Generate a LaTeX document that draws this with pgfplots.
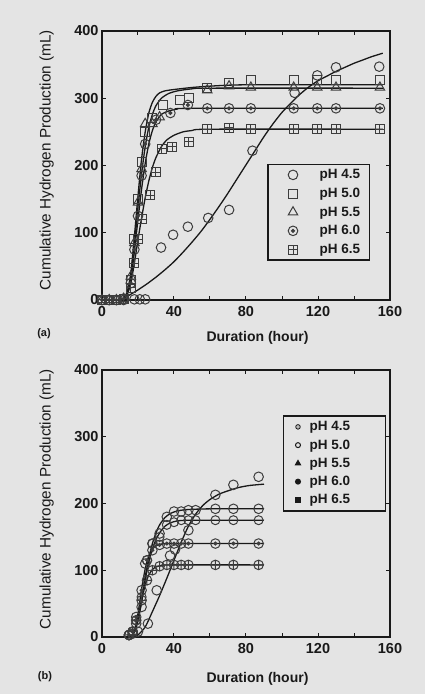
\documentclass[border=0pt]{standalone}
\usepackage{fontspec}
\setmainfont{Liberation Sans}
\usepackage{pgfplots}
\pgfplotsset{compat=1.18}
\definecolor{bg}{gray}{0.895}
\definecolor{ink}{gray}{0.10}
\definecolor{mk}{gray}{0.24}

\pgfdeclareplotmark{odot}{%
  \pgfpathcircle{\pgfpointorigin}{\pgfplotmarksize}\pgfusepathqstroke
  \pgfpathcircle{\pgfpointorigin}{0.32\pgfplotmarksize}\pgfusepathqfillstroke}
\pgfdeclareplotmark{boxplus}{%
  \pgfpathrectangle{\pgfpoint{-\pgfplotmarksize}{-\pgfplotmarksize}}{\pgfpoint{2\pgfplotmarksize}{2\pgfplotmarksize}}%
  \pgfpathmoveto{\pgfpoint{-\pgfplotmarksize}{0pt}}\pgfpathlineto{\pgfpoint{\pgfplotmarksize}{0pt}}%
  \pgfpathmoveto{\pgfpoint{0pt}{-\pgfplotmarksize}}\pgfpathlineto{\pgfpoint{0pt}{\pgfplotmarksize}}%
  \pgfusepathqstroke}

\pgfplotsset{
  panel/.style={
    scale only axis, width=288pt,
    xmin=0, xmax=160, ymin=0, ymax=400,
    xtick={0,40,80,120,160}, minor xtick={20,60,100,140},
    ytick={0,100,200,300,400},
    tick align=inside, major tick length=4pt, minor tick length=4pt,
    axis line style={line width=1.4pt, draw=ink},
    every tick/.append style={line width=1pt, draw=ink},
    tick label style={font=\fontsize{14.5}{14.5}\selectfont\bfseries, text=ink},
    xticklabel style={yshift=-3pt},
    /pgf/number format/assume math mode=true,
    clip=false,
    ylabel={Cumulative Hydrogen Production (mL)},
    xlabel={Duration (hour)},
    ylabel style={font=\fontsize{15.3}{15.3}\selectfont, text=ink, anchor=center},
    xlabel style={font=\fontsize{14}{14}\selectfont\bfseries, text=ink, anchor=center},
    legend cell align=left,
  },
  fitline/.style={smooth, tension=0.4, line width=1.3pt, draw=ink, no marks, forget plot},
  pts/.style={only marks, mark options={draw=mk, fill=mk, line width=1pt}},
}

\begin{document}
\begin{tikzpicture}[x=1pt,y=1pt]
\fill[bg] (0,0) rectangle (425,694);

% ---------------- Panel (a) ----------------
\begin{axis}[panel, at={(102pt,394pt)}, anchor=south west, height=269pt,
  ylabel style={at={(axis description cs:-0.192,0.52)}},
  xlabel style={at={(axis description cs:0.54,-0.140)}},
  legend image code/.code={\path (0pt,-4pt) (46pt,4pt); \draw[#1] plot coordinates {(21.5pt,0pt)};},
  legend style={at={(axis description cs:0.574,0.506)}, anchor=north west,
    draw=ink, line width=1.2pt, fill=none, text=ink,
    font=\fontsize{13.5}{13.5}\selectfont\bfseries,
    inner xsep=3pt, inner ysep=3.5pt, row sep=4.8pt, column sep=0pt,
    nodes={inner sep=1.5pt}},
]
\addplot[pts, mark=o, mark size=4.8pt] coordinates {
(0,0) (4,0) (8,0) (12,0) (18,1) (21,1) (24,1) (32.8,78) (39.5,97) (47.7,109) (59,122) (70.6,134) (83.6,222) (107,308) (119.6,334) (130,346) (154,347)};
\addlegendentry{pH 4.5\kern5pt}
\addplot[pts, mark=square, mark size=4.5pt] coordinates {
(0,0) (4,0) (8,0) (12,2) (16,30) (18,90) (20,150) (22,205) (24,250) (28,270) (34,290) (43.6,297) (48.2,300) (58.5,315) (70.6,322) (82.7,327) (106.5,327) (119.6,327) (130,327) (154.4,327)};
\addlegendentry{pH 5.0\kern5pt}
\addplot[pts, mark=triangle, mark size=5.5pt] coordinates {
(0,0) (4,0) (8,0) (12,2) (16,35) (18,85) (20,145) (22,195) (24,262) (28,262) (32,272) (58.5,312) (70.6,318) (82.7,316) (106.5,316) (119.6,316) (130,316) (154.4,316)};
\addlegendentry{pH 5.5\kern5pt}
\addplot[pts, mark=odot, mark size=4.8pt] coordinates {
(0,0) (4,0) (8,0) (12,2) (16,25) (18,75) (20,125) (22,185) (24,232) (30,268) (38,278) (47.7,290) (58.5,285) (70.6,285) (82.7,285) (106.5,285) (119.6,285) (130,285) (154.4,285)};
\addlegendentry{pH 6.0\kern5pt}
\addplot[pts, mark=boxplus, mark size=4.5pt] coordinates {
(0,0) (4,0) (8,0) (12,2) (16,18) (18,55) (20,90) (22,120) (26.8,156) (30,190) (33.3,225) (38.9,228) (48.2,235) (58.5,254) (70.6,256) (82.7,254) (106.5,254) (119.6,254) (130,254) (154.4,254)};
\addlegendentry{pH 6.5\kern5pt}
% fitted curves
\addplot[fitline] coordinates {
(10,0) (15,7) (20,15) (25,24) (30,34) (35,45) (40,57) (45,71) (50,86) (55,102) (60,120) (65,139) (70,159) (75,180) (80,201) (85,222) (90,243) (95,262) (100,279) (105,293) (110,306) (115,317) (120,326) (125,333) (130,340) (135,346) (140,352) (145,357) (150,362) (156,367)};
\addplot[fitline] coordinates {
(10,0) (12,2) (14,12) (16,40) (18,95) (20,155) (22,210) (24,250) (26,278) (28,294) (30,303) (32,308) (35,311) (40,313) (50,316) (60,318) (80,320) (156,320)};
\addplot[fitline] coordinates {
(10,0) (12,2) (14,10) (16,35) (18,82) (20,138) (22,188) (24,228) (26,257) (28,276) (30,289) (33,300) (37,307) (42,311) (50,314) (60,315) (156,315)};
\addplot[fitline] coordinates {
(10,0) (12,2) (14,9) (16,30) (18,72) (20,120) (22,165) (24,203) (26,232) (28,252) (30,265) (33,276) (37,281) (42,284) (50,285) (156,285)};
\addplot[fitline] coordinates {
(10,0) (12,2) (14,8) (16,25) (18,55) (20,90) (22,122) (24,152) (26,177) (28,197) (30,212) (33,228) (36,238) (40,245) (45,250) (50,252) (60,254) (156,254)};
\end{axis}

% ---------------- Panel (b) ----------------
\begin{axis}[panel, at={(102pt,57pt)}, anchor=south west, height=267pt,
  ylabel style={at={(axis description cs:-0.192,0.517)}},
  xlabel style={at={(axis description cs:0.54,-0.156)}},
  legend image code/.code={\path (0pt,-4pt) (20pt,4pt); \draw[#1] plot coordinates {(10.5pt,0pt)};},
  legend style={at={(axis description cs:0.6295,0.830)}, anchor=north west,
    draw=ink, line width=1.2pt, fill=none, text=ink,
    font=\fontsize{13.5}{13.5}\selectfont\bfseries,
    inner xsep=3pt, inner ysep=4pt, row sep=4.4pt, column sep=0pt,
    nodes={inner sep=1.5pt}},
]
\addlegendimage{only marks, mark=*, mark size=2.3pt, mark options={draw=ink, fill=gray!55, line width=0.8pt}}
\addlegendentry{pH 4.5\kern31pt}
\addlegendimage{only marks, mark=o, mark size=2.5pt, mark options={draw=ink, line width=1pt}}
\addlegendentry{pH 5.0\kern31pt}
\addlegendimage{only marks, mark=triangle*, mark size=2.8pt, mark options={draw=ink, fill=ink}}
\addlegendentry{pH 5.5\kern31pt}
\addlegendimage{only marks, mark=*, mark size=2.4pt, mark options={draw=ink, fill=ink}}
\addlegendentry{pH 6.0\kern31pt}
\addlegendimage{only marks, mark=square*, mark size=2.3pt, mark options={draw=ink, fill=ink}}
\addlegendentry{pH 6.5\kern31pt}
\addplot[pts, mark=o, mark size=4.8pt, forget plot] coordinates {
(15,3) (17,5) (20,8) (25.5,20) (30.4,70) (37.8,122) (40.6,131) (48,160) (63,213) (73,228) (87,240)};
\addplot[pts, mark=o, mark size=4.8pt, forget plot] coordinates {
(15,3) (17,8) (19,20) (22,45) (24,110) (28,140) (32,155) (36,180) (40,188) (44,188) (48,190) (52,190) (63,192) (73,192) (87,192)};
\addplot[pts, mark=o, mark size=4.5pt, forget plot] coordinates {
(15,3) (17,8) (19,25) (22,60) (25,115) (28,140) (32,150) (36,168) (40,172) (44,175) (48,175) (52,175) (63,175) (73,175) (87,175)};
\addplot[pts, mark=odot, mark size=4.8pt, forget plot] coordinates {
(15,3) (17,8) (19,30) (22,70) (25,115) (28,130) (32,138) (36,140) (40,140) (44,140) (48,140) (63,140) (73,140) (87,140)};
\addplot[pts, mark=oplus, mark size=4.8pt, forget plot] coordinates {
(15,3) (17,8) (19,25) (22,55) (25,85) (28,100) (32,106) (36,108) (40,108) (44,108) (48,108) (63,108) (73,108) (87,108)};
% fitted curves
\addplot[fitline] coordinates {
(18,0) (20,3) (24,15) (28,38) (32,62) (36,88) (40,115) (44,142) (48,166) (52,184) (56,197) (60,206) (65,214) (70,219) (76,224) (82,227) (90,229)};
\addplot[fitline] coordinates {
(16,0) (18,8) (20,25) (22,55) (24,90) (26,118) (28,140) (30,156) (32,168) (35,179) (38,185) (42,189) (48,191) (60,192) (90,192)};
\addplot[fitline] coordinates {
(16,0) (18,8) (20,25) (22,52) (24,85) (26,112) (28,132) (30,146) (32,156) (35,166) (38,171) (42,174) (50,175) (90,175)};
\addplot[fitline] coordinates {
(16,0) (18,10) (20,35) (22,72) (24,102) (26,122) (28,132) (30,137) (33,139) (38,140) (90,140)};
\addplot[fitline] coordinates {
(16,0) (18,8) (20,28) (22,55) (24,78) (26,93) (28,101) (30,105) (33,107) (38,108) (90,108)};
\end{axis}

\node[font=\fontsize{11}{11}\selectfont\bfseries, text=ink] at (44pt,360.7pt) {(a)};
\node[font=\fontsize{11}{11}\selectfont\bfseries, text=ink] at (45pt,17pt) {(b)};
\end{tikzpicture}
\end{document}
